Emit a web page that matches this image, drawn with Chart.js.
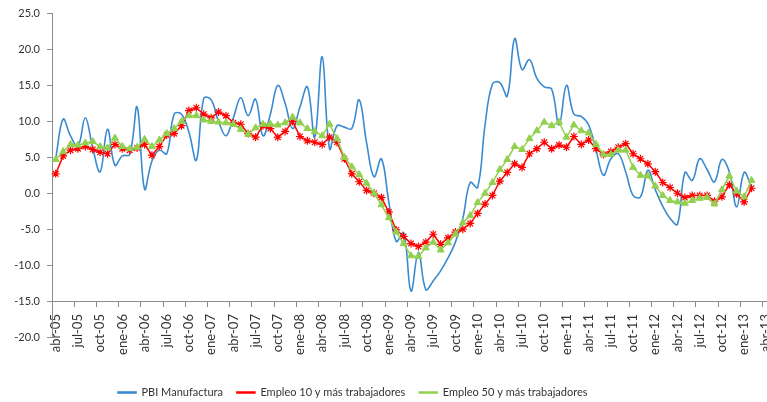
<!DOCTYPE html>
<html lang="es">
<head>
    <meta charset="UTF-8">
    <title>PBI manufactura y empleo</title>
    <script src="https://cdn.jsdelivr.net/npm/chart.js"></script>
    <style>
        html, body { margin: 0; padding: 0; background: #fff; overflow: hidden; }
        #wrap { position: relative; width: 790px; height: 402px; }
    </style>
</head>
<body>
    <div id="wrap"><canvas id="myChart"></canvas></div>
    <script>
        // meses de abr-05 a abr-13 (el grafico original esta cortado a la derecha)
        const meses = ['ene','feb','mar','abr','may','jun','jul','ago','sep','oct','nov','dic'];
        const categorias = [];
        for (let k = 3; k <= 99; k++) {
            categorias.push(meses[k % 12] + '-' + String(5 + Math.floor(k / 12)).padStart(2, '0'));
        }

        // variacion % anual
        const pbiManufactura = [
            4.8, 10.3, 8.0, 6.5, 10.5, 6.3, 3.0, 8.9, 3.9, 5.2, 5.4, 12.0,
            0.6, 4.5, 6.0, 5.5, 11.0, 11.0, 8.5, 4.6, 13.2, 13.0, 10.0, 8.0,
            10.5, 13.3, 10.8, 13.1, 8.0, 11.0, 15.0, 12.5, 9.0, 12.0, 14.8, 7.8,
            19.0, 6.2, 9.4, 9.2, 9.0, 13.0, 7.0, 2.3, 4.8, -1.2, -6.7, -5.5,
            -13.6, -8.2, -13.4, -12.2, -10.8, -9.0, -6.8, -3.5, 1.5, 0.8, 9.5, 15.2,
            15.4, 13.5, 21.5, 17.2, 18.6, 16.0, 14.8, 14.5, 9.5, 15.0, 11.0, 10.7,
            9.5, 6.0, 2.5, 4.8, 5.5, 3.0, -0.3, -0.5, 3.2, 0.5, -1.8, -3.5,
            -4.3, 2.9, 1.8, 4.8, 3.3, 1.6, 4.7, 3.0, -1.9, 2.9, 0.9, null, null
        ];
        const empleo10 = [
            2.7, 5.2, 6.0, 6.2, 6.5, 6.1, 5.7, 5.5, 6.8, 6.2, 6.0, 6.3,
            6.8, 5.3, 6.5, 8.1, 8.3, 9.4, 11.5, 11.9, 11.0, 10.5, 11.3, 10.8,
            9.8, 9.6, 8.3, 7.8, 9.4, 9.0, 7.8, 8.6, 10.0, 7.9, 7.3, 7.1,
            6.8, 7.8, 7.1, 4.8, 2.7, 1.6, 0.4, 0.0, -0.6, -2.6, -5.1, -6.0,
            -7.0, -7.4, -6.8, -5.7, -7.1, -6.2, -5.4, -5.0, -4.2, -2.8, -1.5, -0.3,
            1.7, 2.9, 4.1, 3.6, 5.5, 6.2, 7.1, 6.2, 6.7, 6.4, 7.9, 6.8,
            7.4, 6.2, 5.4, 5.8, 6.4, 6.9, 5.5, 4.8, 4.1, 3.0, 1.5, 0.8,
            0.0, -0.6, -0.3, -0.3, -0.3, -1.1, -0.5, 1.2, -0.1, -1.2, 0.7, null, null
        ];
        const empleo50 = [
            4.7, 5.8, 6.8, 6.7, 7.0, 7.2, 6.5, 6.3, 7.7, 6.5, 6.2, 6.4,
            7.5, 6.5, 7.4, 8.3, 9.0, 10.0, 10.8, 10.8, 10.2, 10.0, 9.9, 9.8,
            9.6, 8.9, 8.2, 9.1, 9.6, 9.6, 9.5, 9.8, 10.6, 9.8, 9.0, 8.6,
            8.0, 9.6, 7.6, 5.0, 3.7, 2.6, 1.4, 0.0, -1.6, -3.4, -5.4, -7.0,
            -8.7, -8.8, -7.6, -6.8, -7.9, -6.9, -5.7, -4.1, -3.1, -1.3, 0.0, 1.5,
            3.3, 4.7, 6.5, 6.1, 7.6, 8.7, 9.9, 9.4, 9.9, 7.8, 9.5, 8.7,
            8.4, 6.8, 5.4, 5.4, 6.0, 6.0, 3.6, 2.5, 2.4, 1.0, -0.3, -1.0,
            -1.2, -1.4, -1.0, -0.7, -0.6, -1.5, 0.5, 2.4, 0.3, -0.5, 1.8, null, null
        ];

        const azul = '#3a8ad0';
        const rojo = '#ff0000';
        const verde = '#92d050';
        const eje = '#8c8c8c';
        const texto = '#333333';

        // la leyenda va centrada bajo el grafico original, no bajo el canvas
        const moverLeyenda = {
            id: 'moverLeyenda',
            afterLayout(chart) {
                const lg = chart.legend;
                const dx = 104 - lg.left;
                const dy = 373 - lg.top;
                lg.left += dx; lg.right += dx;
                lg.top += dy; lg.bottom += dy;
            }
        };

        const ctx = document.getElementById('myChart');
        const myChart = new Chart(ctx, {
            type: 'line',
            data: {
                labels: categorias,
                datasets: [{
                    label: 'PBI Manufactura',
                    data: pbiManufactura,
                    borderColor: azul,
                    backgroundColor: azul,
                    borderWidth: 1.6,
                    pointRadius: 0,
                    tension: 0.4,
                    order: 3
                }, {
                    label: 'Empleo 10 y más trabajadores',
                    data: empleo10,
                    borderColor: rojo,
                    backgroundColor: rojo,
                    borderWidth: 1.5,
                    pointStyle: 'star',
                    pointRadius: 4,
                    pointBorderWidth: 1.2,
                    order: 2
                }, {
                    label: 'Empleo 50 y más trabajadores',
                    data: empleo50,
                    borderColor: verde,
                    backgroundColor: verde,
                    borderWidth: 1.5,
                    pointStyle: 'triangle',
                    pointRadius: 4,
                    pointBorderWidth: 1,
                    order: 1
                }]
            },
            options: {
                responsive: true,
                maintainAspectRatio: false,
                animation: false,
                layout: { padding: { top: 13, right: 17, bottom: 30, left: 0 } },
                plugins: {
                    legend: {
                        position: 'bottom',
                        align: 'start',
                        labels: {
                            boxWidth: 18,
                            boxHeight: 1,
                            padding: 14,
                            color: texto,
                            font: { family: 'Lato', size: 11 },
                            sort: (a, b) => a.datasetIndex - b.datasetIndex
                        }
                    },
                    tooltip: { enabled: false }
                },
                scales: {
                    x: {
                        position: { y: -15 },
                        offset: true,
                        grid: {
                            offset: true,
                            drawOnChartArea: false,
                            tickLength: 5,
                            color: c => c.index % 3 === 0 ? eje : 'transparent'
                        },
                        border: { color: eje },
                        ticks: {
                            autoSkip: false,
                            maxRotation: 90,
                            minRotation: 90,
                            padding: 8,
                            color: texto,
                            font: { family: 'Lato', size: 13 },
                            callback: (v, i) => i % 3 === 0 ? categorias[i] : ''
                        }
                    },
                    y: {
                        min: -20,
                        max: 25,
                        afterFit: s => { s.width = 52; },
                        grid: { drawOnChartArea: false, tickLength: 5, color: eje },
                        border: { color: eje },
                        ticks: {
                            stepSize: 5,
                            padding: 7,
                            color: texto,
                            font: { family: 'Lato', size: 11 },
                            callback: v => v.toFixed(1)
                        }
                    }
                }
            },
            plugins: [moverLeyenda]
        });
    </script>
</body>
</html>
